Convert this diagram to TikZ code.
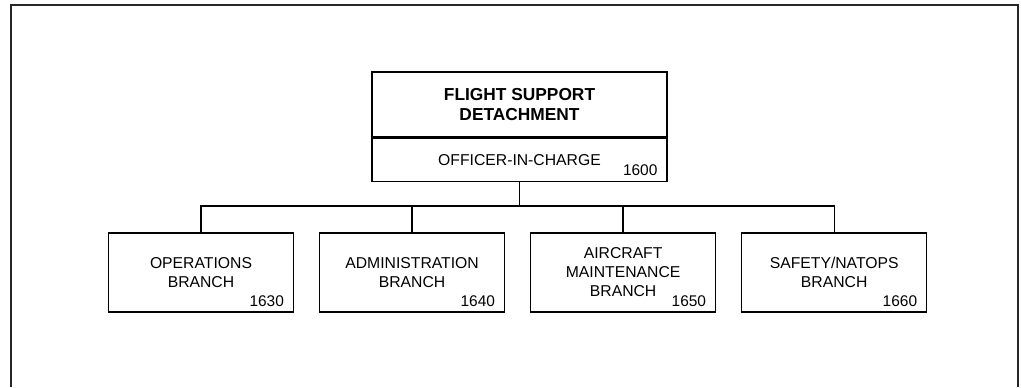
\documentclass[tikz,border=0pt]{standalone}
\usepackage{fontspec}
\setmainfont{Liberation Sans}
\usepackage{tikz}
\usetikzlibrary{positioning}

\begin{document}
\begin{tikzpicture}[
  x=0.75pt, y=-0.75pt,
  node distance=18.5pt,
  branch/.style={rectangle, draw, line width=1.05pt, minimum width=138.75pt, minimum height=59.5pt, align=center, inner sep=0pt, font=\fontsize{11.8}{14.2}\selectfont},
  head/.style={rectangle, draw, line width=1.05pt, minimum width=221.25pt, minimum height=48.75pt, align=center, inner sep=0pt, font=\fontsize{13}{15}\selectfont\bfseries},
  oicbox/.style={rectangle, draw, line width=1.05pt, minimum width=221.25pt, minimum height=32.25pt, align=center, inner sep=0pt, font=\fontsize{11.8}{14.2}\selectfont},
  num/.style={inner sep=0pt, anchor=base east, font=\fontsize{11.6}{14}\selectfont},
  frame/.style={line width=1.8pt, black!85},
  line/.style={line width=1.05pt}
]
  \useasboundingbox (0,0) rectangle (1021,387);
  \draw[frame] (11,387) -- (11,5) -- (1018,5) -- (1018,387);

  \node[head] (fsd) at (519.5,104.5) {FLIGHT SUPPORT\\DETACHMENT};
  \node[oicbox, below=0pt of fsd] (oic) {OFFICER-IN-CHARGE};
  \node[num] (n1600) at ([shift={(-10,-7)}]oic.south east) {1600};

  \node[branch] (ops) at (201,272.5) {OPERATIONS\\BRANCH};
  \node[branch, right=of ops] (adm) {ADMINISTRATION\\BRANCH};
  \node[branch, right=of adm] (acft) {AIRCRAFT\\MAINTENANCE\\BRANCH};
  \node[branch, right=of acft] (safe) {SAFETY/NATOPS\\BRANCH};

  \node[num] (n1630) at ([shift={(-10,-6)}]ops.south east) {1630};
  \node[num] (n1640) at ([shift={(-10,-6)}]adm.south east) {1640};
  \node[num] (n1650) at ([shift={(-10,-6)}]acft.south east) {1650};
  \node[num] (n1660) at ([shift={(-10,-6)}]safe.south east) {1660};

  \coordinate (bus) at (oic.south |- 0,206);
  \draw[line] (oic.south) -- (bus);
  \draw[line] (ops.north) |- (bus) -| (safe.north);
  \draw[line] (adm.north) -- (adm.north |- bus);
  \draw[line] (acft.north) -- (acft.north |- bus);
\end{tikzpicture}
\end{document}
